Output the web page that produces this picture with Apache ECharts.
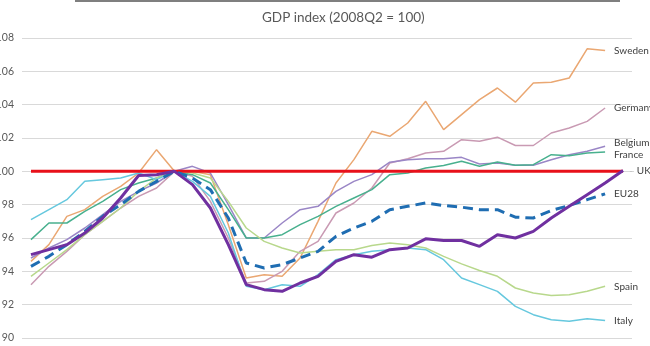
<!DOCTYPE html>
<html>
<head>
<meta charset="utf-8">
<script src="https://cdn.jsdelivr.net/npm/echarts@6/dist/echarts.min.js"></script>
<style>
html,body{margin:0;padding:0;background:#fff;}
#c{width:650px;height:346px;}
</style>
</head>
<body>
<div id="c"></div>
<script>
const categories = ['2006Q2','2006Q3','2006Q4','2007Q1','2007Q2','2007Q3','2007Q4','2008Q1','2008Q2','2008Q3','2008Q4','2009Q1','2009Q2','2009Q3','2009Q4','2010Q1','2010Q2','2010Q3','2010Q4','2011Q1','2011Q2','2011Q3','2011Q4','2012Q1','2012Q2','2012Q3','2012Q4','2013Q1','2013Q2','2013Q3','2013Q4','2014Q1','2014Q2','2014Q3'];
const yTicks = [90, 92, 94, 96, 98, 100, 102, 104, 106, 108];

const sweden  = [94.6, 95.6, 97.3, 97.7, 98.5, 99.1, 99.9, 101.3, 100, 100.0, 99.8, 96.8, 93.6, 93.8, 93.7, 94.8, 97.0, 99.3, 100.7, 102.4, 102.1, 102.9, 104.2, 102.5, 103.4, 104.3, 105.0, 104.15, 105.3, 105.35, 105.6, 107.35, 107.25, null];
const germany = [93.2, 94.3, 95.2, 96.2, 97.0, 97.8, 98.5, 99.0, 100, 99.7, 98.2, 96.0, 93.3, 93.4, 94.0, 95.2, 95.8, 97.5, 98.1, 99.0, 100.5, 100.75, 101.1, 101.2, 101.9, 101.8, 102.05, 101.55, 101.55, 102.3, 102.6, 103.0, 103.8, null];
const belgium = [94.8, 95.4, 95.9, 96.6, 97.4, 98.2, 98.8, 99.3, 100, 100.3, 99.9, 98.0, 96.0, 96.0, 96.9, 97.7, 97.9, 98.8, 99.4, 99.8, 100.55, 100.7, 100.76, 100.76, 100.84, 100.44, 100.5, 100.36, 100.36, 100.7, 101.0, 101.2, 101.5, null];
const france  = [95.9, 96.9, 96.9, 97.6, 98.2, 98.9, 99.3, 99.6, 100, 99.8, 99.3, 97.7, 96.0, 96.0, 96.2, 96.8, 97.3, 97.9, 98.4, 98.9, 99.8, 99.9, 100.2, 100.35, 100.6, 100.3, 100.56, 100.36, 100.4, 101.0, 100.94, 101.1, 101.16, null];
const uk      = [95.0, 95.3, 95.6, 96.3, 97.2, 98.4, 99.75, 99.8, 100, 99.2, 97.8, 95.6, 93.2, 92.9, 92.8, 93.3, 93.7, 94.6, 95.0, 94.85, 95.3, 95.4, 95.95, 95.85, 95.85, 95.5, 96.2, 96.0, 96.4, 97.2, 97.9, 98.6, 99.3, 100.05];
const eu28    = [94.3, 94.9, 95.6, 96.4, 97.3, 98.0, 98.8, 99.4, 100, 99.6, 98.9, 97.2, 94.5, 94.2, 94.4, 94.8, 95.2, 96.1, 96.6, 97.0, 97.7, 97.9, 98.1, 97.95, 97.85, 97.7, 97.7, 97.25, 97.2, 97.65, 97.95, 98.3, 98.65, null];
const spain   = [93.7, 94.5, 95.3, 96.2, 97.0, 97.8, 98.8, 99.6, 100, 99.9, 99.6, 98.2, 96.6, 95.8, 95.4, 95.1, 95.2, 95.3, 95.3, 95.55, 95.7, 95.6, 95.4, 94.9, 94.45, 94.05, 93.7, 93.0, 92.7, 92.55, 92.6, 92.8, 93.1, null];
const italy   = [97.1, 97.7, 98.3, 99.4, 99.5, 99.6, 99.9, 99.5, 100, 99.4, 98.5, 96.3, 93.1, 92.9, 93.2, 93.1, 93.8, 94.7, 95.0, 95.2, 95.3, 95.4, 95.3, 94.7, 93.6, 93.2, 92.8, 91.9, 91.4, 91.1, 91.0, 91.15, 91.05, null];
const baseline = [100, 100, 100, 100, 100, 100, 100, 100, 100, 100, 100, 100, 100, 100, 100, 100, 100, 100, 100, 100, 100, 100, 100, 100, 100, 100, 100, 100, 100, 100, 100, 100, 100, 100];

const FONT = 'Lato';
function lbl(extra) {
  return Object.assign({
    show: true,
    formatter: '{a}',
    color: '#404040',
    fontSize: 10,
    fontFamily: FONT,
    distance: 9
  }, extra || {});
}
function thin(name, data, color, labelExtra) {
  return {
    name: name, type: 'line', data: data, showSymbol: false, symbol: 'none',
    lineStyle: { color: color, width: 1.5 },
    itemStyle: { color: color },
    endLabel: lbl(labelExtra),
    emphasis: { disabled: true },
    silent: true
  };
}

const chart = echarts.init(document.getElementById('c'), null, { renderer: 'canvas' });
chart.setOption({
  animation: false,
  backgroundColor: '#ffffff',
  title: {
    text: 'GDP index (2008Q2 = 100)',
    left: 257,
    top: 6,
    textStyle: { fontFamily: FONT, fontSize: 13.5, fontWeight: 'normal', color: '#595959' }
  },
  graphic: [{
    type: 'rect', left: 75, top: 0, shape: { width: 545, height: 2 },
    style: { fill: '#7f7f7f' }, silent: true
  }],
  grid: { left: 22, right: 18, top: 38, bottom: 8, containLabel: false, outerBoundsMode: 'none' },
  xAxis: {
    type: 'category',
    data: categories,
    boundaryGap: true,
    axisLine: { show: false },
    axisTick: { show: false },
    axisLabel: { show: false },
    splitLine: { show: false }
  },
  yAxis: {
    type: 'value',
    min: yTicks[0],
    max: yTicks[yTicks.length - 1],
    interval: 2,
    axisLine: { show: false },
    axisTick: { show: false },
    axisLabel: { color: '#595959', fontSize: 10.5, fontFamily: FONT, margin: 8 },
    splitLine: { lineStyle: { color: '#d9d9d9', width: 1 } }
  },
  series: [
    thin('Sweden', sweden, '#eaa772'),
    thin('Germany', germany, '#c99ab3'),
    thin('Belgium', belgium, '#9a86c6', { offset: [0, -4] }),
    thin('France', france, '#48b08e', { offset: [0, 3] }),
    thin('Spain', spain, '#b8d88c'),
    thin('Italy', italy, '#66c8de'),
    {
      name: 'Baseline', type: 'line', data: baseline, symbol: 'none', silent: true,
      lineStyle: { color: '#e8101a', width: 3 }, itemStyle: { color: '#e8101a' },
      emphasis: { disabled: true }
    },
    {
      name: 'EU28', type: 'line', data: eu28, symbol: 'none', silent: true,
      lineStyle: { color: '#1f6db2', width: 3, type: [10, 6] }, itemStyle: { color: '#1f6db2' },
      endLabel: lbl(), emphasis: { disabled: true }
    },
    {
      name: 'UK', type: 'line', data: uk, symbol: 'none', silent: true,
      lineStyle: { color: '#7030a0', width: 3 }, itemStyle: { color: '#7030a0' },
      endLabel: lbl({
        distance: 6,
        formatter: '{d|–}{a}',
        rich: { d: { color: '#bfbfbf', fontSize: 10, fontFamily: FONT, padding: [0, 2, 0, 0] } }
      }),
      emphasis: { disabled: true }
    }
  ]
});
</script>
</body>
</html>
